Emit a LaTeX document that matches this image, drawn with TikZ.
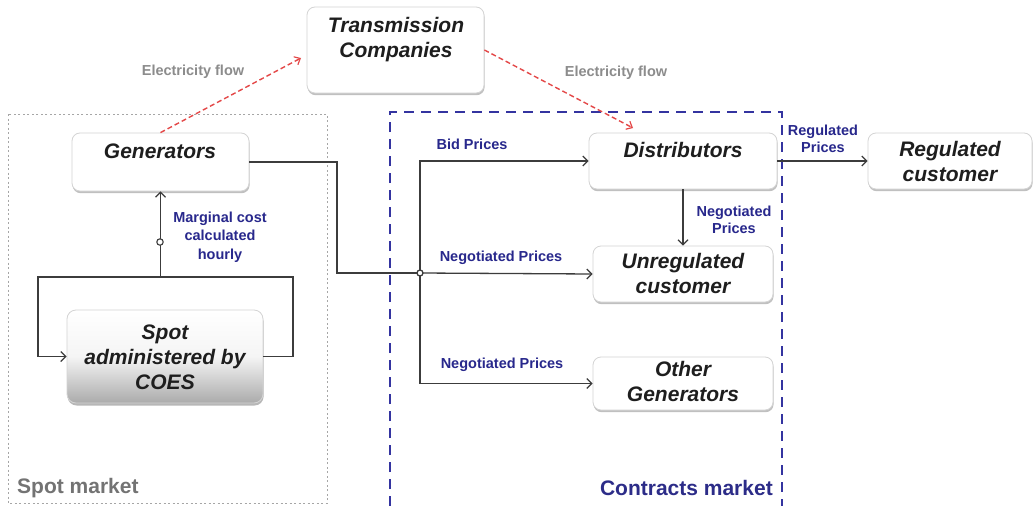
\documentclass[tikz,border=0pt]{standalone}
\usepackage{fontspec}
\setmainfont{Liberation Sans}
\usetikzlibrary{arrows.meta,shadows,calc}
\definecolor{lblblue}{RGB}{40,40,140}
\definecolor{ntext}{RGB}{30,30,30}
\definecolor{redd}{RGB}{228,72,72}
\definecolor{bborder}{RGB}{212,212,212}
\definecolor{cblue}{RGB}{52,52,160}
\definecolor{lgray}{RGB}{60,60,60}
\definecolor{fgray}{RGB}{140,140,140}
\newcommand\nfont{\fontsize{21}{25}\selectfont\bfseries\itshape}
\newcommand\lfont{\fontsize{14.5}{17.5}\selectfont\bfseries}
\newcommand\gfont{\fontsize{21}{25}\selectfont\bfseries}
\begin{document}
\begin{tikzpicture}[x=1pt,y=-1pt,
  boxn/.style={draw=bborder, line width=0.8pt, rounded corners=8pt, fill=white, inner sep=0pt,
    drop shadow={shadow xshift=0.6pt, shadow yshift=-2.2pt, opacity=0.35, fill=black!70}},
  txt/.style={font=\nfont, text=ntext, align=center, inner sep=0pt},
  lbl/.style={font=\lfont, text=lblblue, align=center, inner sep=0pt},
  flowlbl/.style={font=\lfont, text=fgray, inner sep=0pt},
  conn/.style={draw=lgray, line width=1.3pt, -{Straight Barb[length=5pt,width=10pt,line width=1.2pt]}},
  plain/.style={draw=lgray, line width=1.3pt},
  redarr/.style={draw=redd, line width=1.4pt, dash pattern=on 5pt off 3pt, -{Straight Barb[length=5pt,width=9pt,line width=1.2pt]}}
]
\useasboundingbox[fill=white] (0,0) rectangle (1034,506);

% containers
\draw[draw=black!35, line width=1pt, dash pattern=on 2pt off 2.5pt] (8,114) rectangle (327,503);
\draw[draw=cblue, line width=2.6pt, dash pattern=on 10pt off 7pt] (390,506) -- (390,112) -- (782,112) -- (782,506);
\node[font=\gfont, text=black!55, anchor=west, inner sep=0pt] (spotlbl) at (17,488) {Spot market};
\node[font=\gfont, text=cblue!85!black, anchor=east, inner sep=0pt] (contrlbl) at (773,488) {Contracts market};

% boxes
\node[boxn, minimum width=177pt, minimum height=86pt] (trans) at (395.5,50) {};
\node[boxn, minimum width=177pt, minimum height=58pt] (gen) at (160.5,162) {};
\node[draw=bborder, line width=0.8pt, rounded corners=9pt, top color=white, bottom color=black!33, middle color=black!4, inner sep=0pt,
    drop shadow={shadow xshift=0.6pt, shadow yshift=-2.5pt, opacity=0.4, fill=black!70},
    minimum width=196pt, minimum height=93pt] (spot) at (165,356.5) {};
\node[boxn, minimum width=188pt, minimum height=56pt] (dist) at (683,161) {};
\node[boxn, minimum width=164pt, minimum height=56pt] (reg) at (950,161) {};
\node[boxn, minimum width=180pt, minimum height=56pt] (unreg) at (683,274) {};
\node[boxn, minimum width=180pt, minimum height=53pt] (other) at (683,383.5) {};

% box texts
\node[txt] (transt) at (396,40) {Transmission\\Companies};
\node[txt] (gent) at (160,151) {Generators};
\node[txt] (spott) at (165,357) {Spot\\administered by\\COES};
\node[txt] (distt) at (683,150) {Distributors};
\node[txt, fontsize/.style={}] (regt) at (950,161) {\fontsize{21}{22.5}\selectfont Regulated\\customer};
\node[txt] (unregt) at (683,273.5) {\fontsize{21}{23}\selectfont Unregulated\\customer};
\node[txt] (othert) at (683,381.5) {\fontsize{21}{23}\selectfont Other\\Generators};

% connectors
\coordinate (j) at (420,273);
\coordinate (g1) at (337,273);
\draw[plain] (gen.east) -| (g1) -- (j);
\draw[conn] (j) |- (dist.west);
\draw[conn] (j) -- (unreg.west);
\draw[conn] (j) |- (other.west);
\draw[plain, fill=white] (j) circle (3pt);
\draw[conn] (dist.south) -- (unreg.north);
\draw[conn] (dist.east) -- (reg.west);

\coordinate (s1) at (293,277);
\coordinate (s2) at (38,356.5);
\coordinate (sm) at (160,277);
\draw[conn] (spot.east) -| (s1) -| (gen.south);
\draw[conn] (sm) -| (s2) -- (spot.west);
\coordinate (circ) at (160,242);
\draw[plain, fill=white, line width=1.1pt] (circ) circle (3.2pt);

% electricity flow
\coordinate (t1) at (301,58);
\coordinate (d1) at (633,128);
\draw[redarr] (gen.north) -- (t1);
\draw[redarr] (trans.east) -- (d1);

% labels
\node[flowlbl] (ef1) at (193,72) {Electricity flow};
\node[flowlbl] (ef2) at (616,73) {Electricity flow};
\node[lbl] (bid) at (472,144) {Bid Prices};
\node[lbl] (np1) at (501,258) {Negotiated Prices};
\node[lbl] (np2) at (502,365) {Negotiated Prices};
\node[lbl] (np3) at (734,220) {Negotiated\\Prices};
\node[lbl] (rp) at (823,139) {Regulated\\Prices};
\node[lbl, font=\fontsize{14.5}{18.5}\selectfont\bfseries] (mc) at (220,237) {Marginal cost\\calculated\\hourly};
\end{tikzpicture}
\end{document}
